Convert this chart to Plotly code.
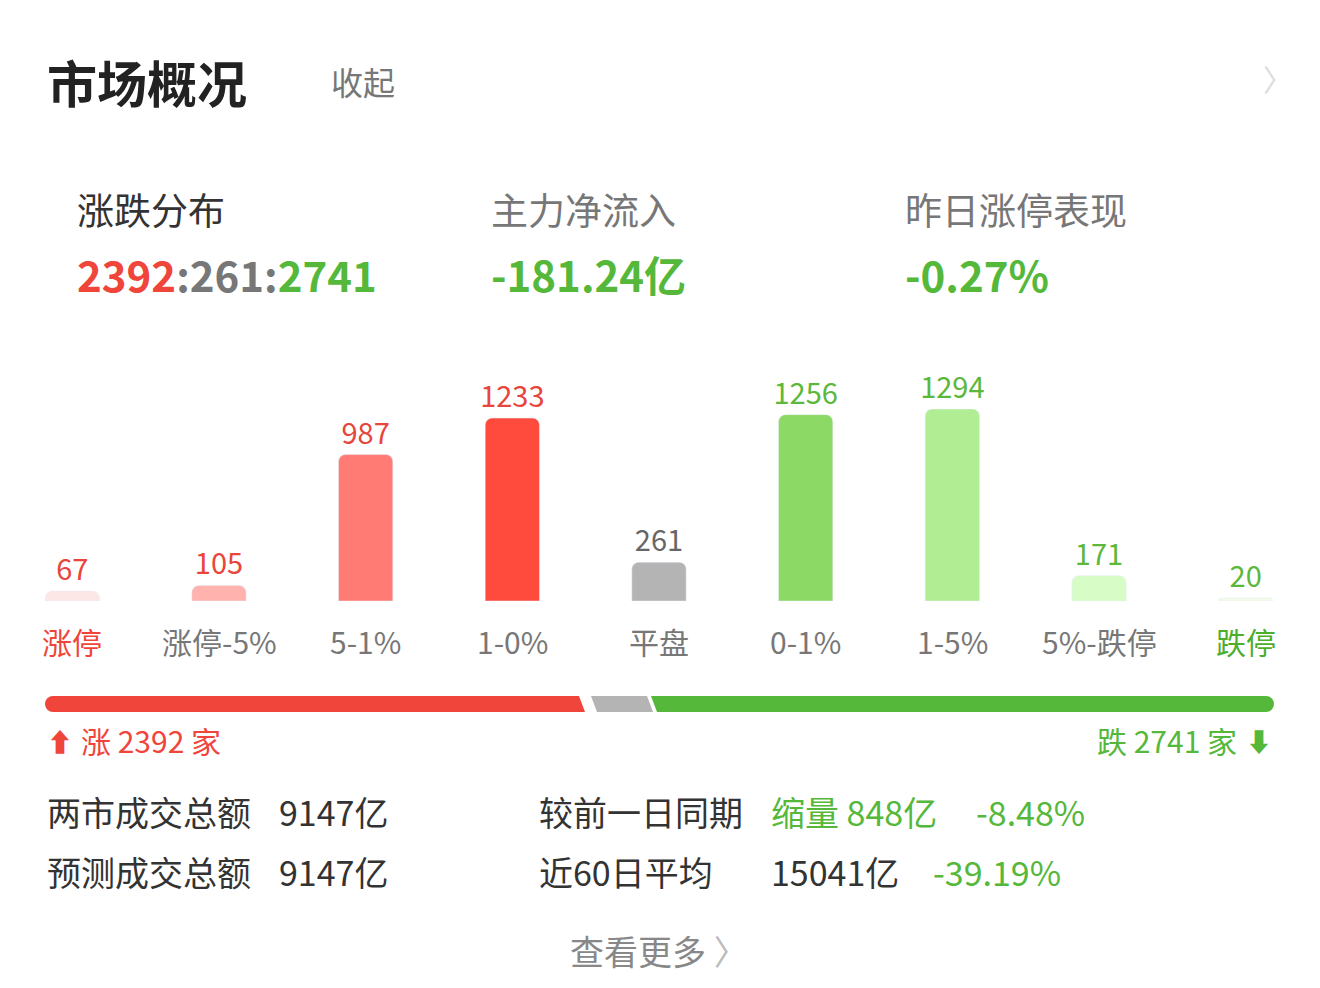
import plotly.graph_objects as go

W, H = 1320, 988
FONT = "Noto Sans CJK SC"
DX, DY = 9, 10  # page offset of the plot in the browser

categories = ["涨停", "涨停-5%", "5-1%", "1-0%", "平盘", "0-1%", "1-5%", "5%-跌停", "跌停"]
counts = [67, 105, 987, 1233, 261, 1256, 1294, 171, 20]
bar_colors = ["#fde6e6", "#ffb2ae", "#ff7b74", "#ff4a3e", "#b4b4b4",
              "#8cd966", "#b1ed92", "#d8fcc6", "#f2fbe8"]
value_colors = ["#e8453c"] * 4 + ["#666666"] + ["#5cb83a"] * 4
cat_colors = ["#f04438"] + ["#777777"] * 7 + ["#4cae2c"]

up, flat, down = 2392, 261, 2741
RED, GRAY, GREEN = "#f0453a", "#b4b4b4", "#55b83a"


def px(x):
    return (x - DX) / W


def py(y):
    return 1 - (y - DY) / H


fig = go.Figure(go.Bar(
    x=categories, y=counts, marker_color=bar_colors, width=0.37,
    text=[str(c) for c in counts], textposition="outside", cliponaxis=False,
    constraintext="none",
    textfont=dict(family=FONT, size=29, color=value_colors),
    hoverinfo="skip",
))

ann = []


def text(x, y, s, size, color, anchor="left", bold=False):
    ann.append(dict(x=px(x), y=py(y), xref="paper", yref="paper", text=s,
                    showarrow=False, xanchor=anchor, yanchor="middle",
                    font=dict(family=FONT, size=size, color=color,
                              weight="bold" if bold else "normal")))


text(46, 83, "市场概况", 50, "#222222", bold=True)
text(330, 83, "收起", 32, "#777777")
text(1262, 80, "〉", 30, "#dddddd")

text(76, 211, "涨跌分布", 37, "#333333")
text(490, 211, "主力净流入", 37, "#777777")
text(904, 211, "昨日涨停表现", 37, "#777777")
text(76, 276, f"<span style='color:{RED}'>{up}</span><span style='color:#777'>:{flat}:</span>"
     f"<span style='color:{GREEN}'>{down}</span>", 42, RED, bold=True)
text(490, 276, "-181.24亿", 42, GREEN, bold=True)
text(904, 276, "-0.27%", 42, GREEN, bold=True)

for c, col in zip(categories, cat_colors):
    ann.append(dict(x=c, y=py(643), xref="x", yref="paper", text=c, showarrow=False,
                    yanchor="middle", font=dict(family=FONT, size=30, color=col)))

text(46, 742, "⬆", 26, RED)
text(80, 742, f"涨 {up} 家", 30, RED)
text(1275, 742, "⬇", 26, GREEN, anchor="right")
text(1240, 742, f"跌 {down} 家", 30, GREEN, anchor="right")

text(46, 813, "两市成交总额", 34, "#333333")
text(278, 813, "9147亿", 34, "#333333")
text(46, 873, "预测成交总额", 34, "#333333")
text(278, 873, "9147亿", 34, "#333333")
text(538, 813, "较前一日同期", 34, "#333333")
text(770, 813, "缩量 848亿", 34, GREEN)
text(975, 813, "-8.48%", 34, GREEN)
text(538, 873, "近60日平均", 34, "#333333")
text(770, 873, "15041亿", 34, "#333333")
text(932, 873, "-39.19%", 34, GREEN)
text(660, 952, "查看更多 <span style='color:#bbb'>〉</span>", 34, "#888888", anchor="center")

# progress bar segments
y0, y1 = 698, 714


def poly(pts, color):
    d = "M " + " L ".join(f"{px(a)},{py(b)}" for a, b in pts) + " Z"
    return dict(type="path", xref="paper", yref="paper", path=d,
                fillcolor=color, line=dict(width=0))


shapes = [
    poly([(54, y0), (580, y0), (586, y1), (54, y1)], RED),
    poly([(592, y0), (648, y0), (654, y1), (598, y1)], GRAY),
    poly([(652, y0), (1267, y0), (1267, y1), (658, y1)], GREEN),
    dict(type="circle", xref="paper", yref="paper", x0=px(46), x1=px(62),
         y0=py(y1), y1=py(y0), fillcolor=RED, line=dict(width=0)),
    dict(type="circle", xref="paper", yref="paper", x0=px(1259), x1=px(1275),
         y0=py(y1), y1=py(y0), fillcolor=GREEN, line=dict(width=0)),
]

shift = DX / (W / 9)
fig.update_layout(
    width=W, height=H, margin=dict(l=0, r=0, t=0, b=0),
    paper_bgcolor="white", plot_bgcolor="white", showlegend=False,
    barcornerradius=7,
    xaxis=dict(domain=[0, 1], range=[-0.5 + shift, 8.5 + shift], showticklabels=False,
               showgrid=False, zeroline=False, fixedrange=True),
    yaxis=dict(domain=[py(603), py(411)], range=[0, 1294], visible=False),
    annotations=ann, shapes=shapes,
)

fig.write_html("out.html")
